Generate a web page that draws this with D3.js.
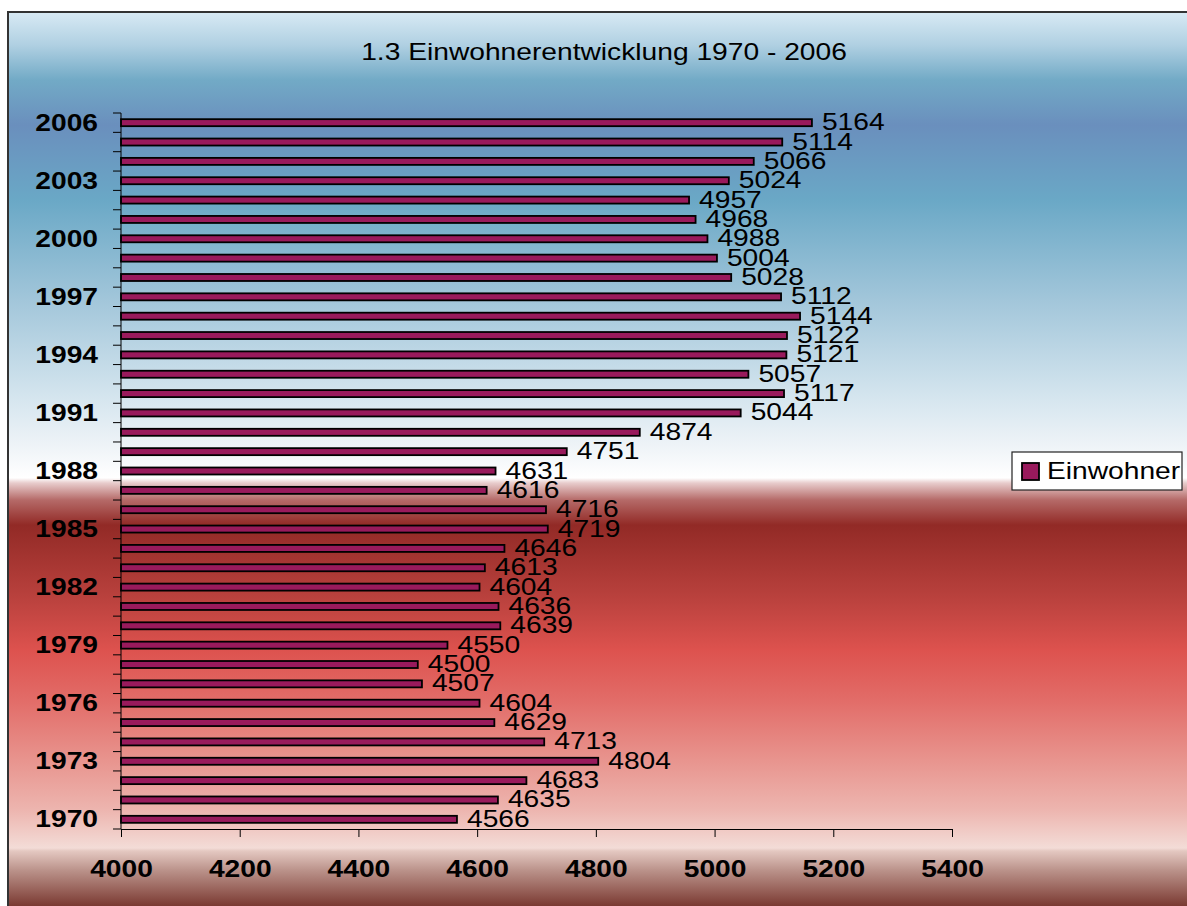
<!DOCTYPE html>
<html>
<head>
<meta charset="utf-8">
<script src="https://cdn.jsdelivr.net/npm/d3@7"></script>
<style>
  html, body { margin: 0; padding: 0; background: #fff; }
  svg { display: block; }
  text { font-family: "Liberation Sans", Arial, sans-serif; fill: #000; }
</style>
</head>
<body>
<svg id="chart" width="1187" height="906"></svg>
<script>
const years = [1970,1971,1972,1973,1974,1975,1976,1977,1978,1979,1980,1981,1982,1983,1984,1985,1986,1987,1988,1989,1990,1991,1992,1993,1994,1995,1996,1997,1998,1999,2000,2001,2002,2003,2004,2005,2006];
const einwohner = [4566,4635,4683,4804,4713,4629,4604,4507,4500,4550,4639,4636,4604,4613,4646,4719,4716,4616,4631,4751,4874,5044,5117,5057,5121,5122,5144,5112,5028,5004,4988,4968,4957,5024,5066,5114,5164];
const xTicks = [4000,4200,4400,4600,4800,5000,5200,5400];
const yLabelYears = [1970,1973,1976,1979,1982,1985,1988,1991,1994,1997,2000,2003,2006];
const title = "1.3 Einwohnerentwicklung 1970 - 2006";
const seriesName = "Einwohner";

const svg = d3.select("#chart");
const SX = 1.2; // horizontal stretch of text
const FS = 23.5;

// background gradient
const defs = svg.append("defs");
const grad = defs.append("linearGradient").attr("id", "bg")
  .attr("gradientUnits", "userSpaceOnUse").attr("x1", 0).attr("x2", 0).attr("y1", 0).attr("y2", 906);
const stops = [
  [12,"#d8eaf4"],[45,"#b0d0e2"],[80,"#72aac6"],[125,"#6a8fbd"],[200,"#6aa8c6"],
  [300,"#a2c6da"],[400,"#d6e6ef"],[445,"#eef3f7"],[478,"#ffffff"],[483,"#e8cccc"],
  [500,"#b56a68"],[525,"#922a26"],[600,"#bb423e"],[650,"#dd524e"],[700,"#e26c68"],
  [760,"#e8948e"],[810,"#edb5af"],[848,"#f3dcd7"],[851,"#e4c8c1"],[870,"#bb938b"],
  [890,"#98625a"],[906,"#7a3a32"]
];
stops.forEach(([y,c]) => grad.append("stop").attr("offset", (y/906)).attr("stop-color", c));

svg.append("rect").attr("x", 8).attr("y", 12).attr("width", 1200).attr("height", 920)
  .attr("fill", "url(#bg)").attr("stroke", "#333").attr("stroke-width", 2);

const x = d3.scaleLinear().domain([4000, 5400]).range([121, 952]);
const y = d3.scaleBand().domain(years.slice().reverse()).range([113, 829]).padding(0);
const bw = y.bandwidth();
const barH = 7;

function stretchedText(sel, tx, ty, txt, anchor, weight) {
  return sel.append("text")
    .attr("transform", `translate(${tx},${ty}) scale(${SX},1)`)
    .attr("text-anchor", anchor)
    .attr("font-size", FS)
    .attr("font-weight", weight || "normal")
    .text(txt);
}

// title
stretchedText(svg, 604, 60, title, "middle");

// bars
const data = years.map((yr, i) => ({ year: yr, value: einwohner[i] }));
svg.append("g").selectAll("rect").data(data).join("rect")
  .attr("x", x(4000))
  .attr("y", d => y(d.year) + (bw - barH) / 2)
  .attr("width", d => x(d.value) - x(4000))
  .attr("height", barH)
  .attr("fill", "#991a5c")
  .attr("stroke", "#000")
  .attr("stroke-width", 1.8);

// value labels
const vl = svg.append("g");
data.forEach(d => {
  stretchedText(vl, x(d.value) + 10, y(d.year) + bw / 2 + 7.5, d.value, "start");
});

// y axis
const ya = svg.append("g");
ya.append("line").attr("x1", 121).attr("x2", 121).attr("y1", 113).attr("y2", 829)
  .attr("stroke", "#000").attr("stroke-width", 1);
const edges = years.map(yr => y(yr)).concat([y(1970) + bw]);
ya.selectAll("line.tk").data(edges).join("line").attr("class", "tk")
  .attr("x1", 113).attr("x2", 121).attr("y1", d => d).attr("y2", d => d)
  .attr("stroke", "#000").attr("stroke-width", 1);
yLabelYears.forEach(yr => {
  stretchedText(ya, 98, y(yr) + bw / 2 + 8, yr, "end", "bold");
});

// x axis
const xa = svg.append("g").attr("transform", "translate(0,829)")
  .call(d3.axisBottom(x).tickValues(xTicks).tickSize(8).tickSizeOuter(0).tickFormat(d3.format("d")));
xa.select(".domain").attr("stroke", "#000");
xa.selectAll(".tick line").attr("stroke", "#000");
xa.selectAll(".tick text")
  .attr("y", null).attr("dy", null)
  .attr("transform", `translate(0,48) scale(${SX},1)`)
  .attr("font-size", FS).attr("font-weight", "bold")
  .attr("font-family", '"Liberation Sans", Arial, sans-serif')
  .attr("fill", "#000");

// legend
const lg = svg.append("g");
lg.append("rect").attr("x", 1012).attr("y", 452).attr("width", 170).attr("height", 38)
  .attr("fill", "#fff").attr("stroke", "#222").attr("stroke-width", 1.2);
lg.append("rect").attr("x", 1022).attr("y", 463).attr("width", 17).attr("height", 17)
  .attr("fill", "#991a5c").attr("stroke", "#000").attr("stroke-width", 1.8);
stretchedText(lg, 1047, 479, seriesName, "start");
</script>
</body>
</html>
